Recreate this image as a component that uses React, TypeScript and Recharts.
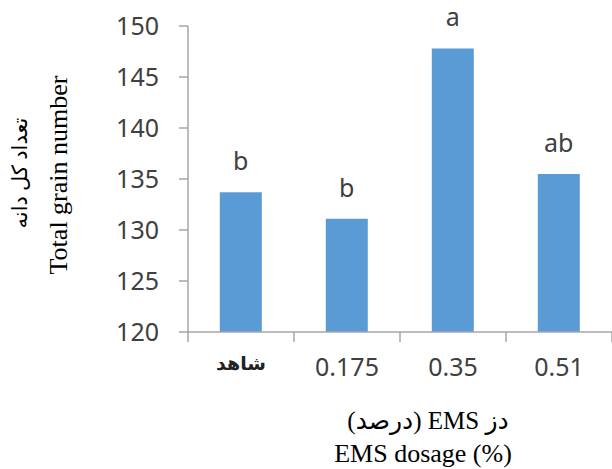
import { BarChart, Bar, XAxis, YAxis, LabelList } from "recharts";

const doses = ["شاهد", "0.175", "0.35", "0.51"];
const grainNumber = [133.7, 131.1, 147.8, 135.5];
const groups = ["b", "b", "a", "ab"];
const yTicks = [120, 125, 130, 135, 140, 145, 150];
const bandEdges = [0, 1, 2, 3, 4];

const data = doses.map((dose, i) => ({
  dose,
  pos: i,
  grains: grainNumber[i],
  group: groups[i],
}));

const sans = "'Noto Sans', 'Open Sans', sans-serif";
const serif = "'Liberation Serif', 'Times New Roman', 'DejaVu Sans', serif";
const axisGray = "#a6a6a6";
const textColor = "#404040";

function DoseTick({ x, y, payload }: any) {
  const persian = /[\u0600-\u06FF]/.test(payload.value);
  return (
    <text
      x={x}
      y={y}
      dy={persian ? "0.62em" : "0.71em"}
      textAnchor="middle"
      fill={persian ? "#222" : textColor}
      fontFamily={persian ? "'DejaVu Sans', sans-serif" : sans}
      fontWeight={persian ? "bold" : "normal"}
      fontSize={persian ? 19 : 25}
    >
      {payload.value}
    </text>
  );
}

// boundary ticks only, no text
const NoText = () => <g />;

// two-line rotated y title
function YTitle() {
  return (
    <g fontFamily={serif} fill="#000" textAnchor="middle">
      <text x={20} y={173} fontSize={21} transform="rotate(-90 20 173)" dy="0.35em">
        تعداد کل دانه
      </text>
      <text x={58} y={175} fontSize={26} transform="rotate(-90 58 175)" dy="0.35em">
        Total grain number
      </text>
    </g>
  );
}

function XTitle() {
  return (
    <g fontFamily={serif} fill="#000" textAnchor="middle">
      <text x={428} y={420} fontSize={25} dy="0.35em" direction="rtl">
        دز EMS (درصد)
      </text>
      <text x={423} y={453} fontSize={26} dy="0.35em">
        EMS dosage (%)
      </text>
    </g>
  );
}

export default function App() {
  return (
    <div style={{ position: "absolute", left: 0, top: 0, width: 612, height: 469, background: "#fff" }}>
      <BarChart
        width={612}
        height={469}
        data={data}
        margin={{ top: 26, right: 0, bottom: 0, left: 0 }}
        barCategoryGap="30%"
      >
        <XAxis
          xAxisId={0}
          dataKey="pos"
          type="number"
          domain={[0, 4]}
          ticks={bandEdges}
          height={1}
          tick={NoText}
          tickSize={10}
          axisLine={{ stroke: axisGray, strokeWidth: 1.5 }}
          tickLine={{ stroke: axisGray, strokeWidth: 1.5 }}
        />
        <XAxis
          xAxisId={1}
          dataKey="dose"
          height={136}
          axisLine={false}
          tickLine={false}
          tickSize={0}
          tickMargin={25}
          tick={<DoseTick />}
          label={{ content: () => <XTitle /> }}
        />
        <YAxis
          domain={[120, 150]}
          ticks={yTicks}
          width={188}
          tickSize={9}
          tickMargin={20}
          axisLine={{ stroke: axisGray, strokeWidth: 1.5 }}
          tickLine={{ stroke: axisGray, strokeWidth: 1.5 }}
          tick={{ fill: textColor, fontSize: 25, fontFamily: sans }}
          label={{ content: () => <YTitle /> }}
        />
        <Bar dataKey="grains" xAxisId={1} fill="#5b9bd5" isAnimationActive={false}>
          <LabelList
            dataKey="group"
            position="top"
            offset={22}
            fill={textColor}
            fontSize={25}
            fontFamily={sans}
          />
        </Bar>
      </BarChart>
    </div>
  );
}
